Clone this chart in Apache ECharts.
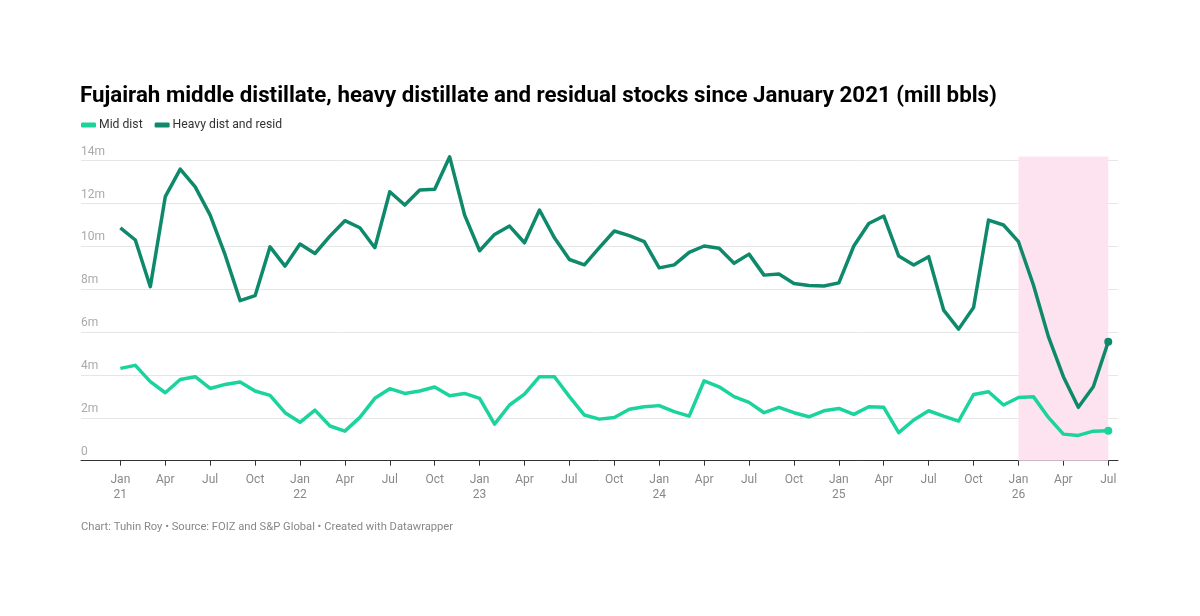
<!DOCTYPE html>
<html>
<head>
<meta charset="utf-8">
<script src="https://cdn.jsdelivr.net/npm/echarts@6/dist/echarts.min.js"></script>
<style>
  html, body { margin: 0; padding: 0; background: #fff; }
  #chart { width: 1200px; height: 616px; }
</style>
</head>
<body>
<div id="chart"></div>
<script>
// months Jan 2021 .. Jul 2026
const months = [];
const monthNames = ['Jan','Feb','Mar','Apr','May','Jun','Jul','Aug','Sep','Oct','Nov','Dec'];
for (let y = 21; y <= 26; y++) {
    for (let m = 0; m < 12; m++) {
        if (y === 26 && m > 6) break;
        months.push(monthNames[m] + ' ' + y);
    }
}

const midDist = [
    4.31, 4.45, 3.69, 3.17, 3.79, 3.92, 3.37, 3.56, 3.67, 3.25, 3.05, 2.24,
    1.79, 2.36, 1.62, 1.38, 2.02, 2.91, 3.36, 3.14, 3.25, 3.44, 3.03, 3.14,
    2.91, 1.71, 2.60, 3.11, 3.92, 3.92, 2.99, 2.13, 1.94, 2.02, 2.40, 2.52,
    2.57, 2.29, 2.08, 3.73, 3.45, 2.99, 2.72, 2.24, 2.49, 2.24, 2.05, 2.33,
    2.44, 2.16, 2.52, 2.49, 1.31, 1.90, 2.33, 2.08, 1.85, 3.09, 3.22, 2.60,
    2.95, 2.99, 2.02, 1.24, 1.18, 1.38, 1.40
];

const heavyDist = [
    10.87, 10.30, 8.12, 12.32, 13.61, 12.78, 11.46, 9.60, 7.47, 7.70, 9.98, 9.08,
    10.11, 9.67, 10.48, 11.20, 10.87, 9.94, 12.55, 11.93, 12.63, 12.67, 14.18, 11.46,
    9.80, 10.56, 10.95, 10.17, 11.70, 10.40, 9.39, 9.14, 9.94, 10.72, 10.50, 10.22,
    9.00, 9.14, 9.72, 10.02, 9.91, 9.21, 9.64, 8.66, 8.71, 8.27, 8.18, 8.15,
    8.30, 10.02, 11.07, 11.42, 9.55, 9.13, 9.52, 7.03, 6.14, 7.15, 11.23, 11.00,
    10.22, 8.20, 5.79, 3.92, 2.49, 3.45, 5.55
];

// quarterly tick positions (month index) and their labels
const tickIdx = [];
for (let i = 0; i < months.length; i += 3) tickIdx.push(i);
const tickLabel = i => {
    const [m, y] = months[i].split(' ');
    return m === 'Jan' ? m + '\n' + y : m;
};

// highlighted period
const shadeStart = months.indexOf('Jan 26');
const shadeEnd = months.indexOf('Jul 26');
const shadeTop = 14.2;

const colMid = '#1bd39c';
const colHeavy = '#0e8a6b';
const last = months.length - 1;

const toPairs = arr => arr.map((v, i) => [i, v]);
const endDot = (v, p) => (p.dataIndex === last ? 8 : 0);

var myChart = echarts.init(document.getElementById('chart'));
var option = {
    animation: false,
    textStyle: { fontFamily: 'Roboto' },
    title: {
        text: 'Fujairah middle distillate, heavy distillate and residual stocks since January 2021 (mill bbls)',
        left: 80,
        top: 85,
        padding: 0,
        textStyle: { fontSize: 22.3, fontWeight: 'bold', color: '#000', fontFamily: 'Roboto' }
    },
    legend: {
        left: 81,
        top: 119,
        padding: 0,
        itemWidth: 15,
        itemHeight: 5,
        itemGap: 12,
        icon: 'roundRect',
        textStyle: { fontSize: 12.2, color: '#333', padding: [0, 0, 0, -2] },
        data: ['Mid dist', 'Heavy dist and resid']
    },
    grid: { left: 81, right: 82, top: 160.7, bottom: 155.3 },
    xAxis: {
        type: 'value',
        min: -2.63,
        max: 66.65,
        splitLine: { show: false },
        axisLine: { lineStyle: { color: '#333', width: 1 } },
        axisTick: { customValues: tickIdx, length: 5, lineStyle: { color: '#333' } },
        axisLabel: {
            customValues: tickIdx,
            formatter: v => tickLabel(Math.round(v)),
            color: '#888',
            fontSize: 12,
            lineHeight: 15,
            margin: 12
        }
    },
    yAxis: {
        type: 'value',
        min: 0,
        max: 14,
        interval: 2,
        axisLine: { show: false },
        axisTick: { show: false },
        splitLine: { lineStyle: { color: '#e6e6e6', width: 1 } },
        axisLabel: {
            inside: true,
            margin: 0,
            verticalAlign: 'bottom',
            padding: [0, 0, 3, 0],
            color: '#aaa',
            fontSize: 12,
            formatter: v => (v === 0 ? '0' : v + 'm')
        }
    },
    series: [
        {
            name: 'Heavy dist and resid',
            type: 'line',
            data: toPairs(heavyDist),
            clip: false,
            symbol: 'circle',
            symbolSize: endDot,
            showAllSymbol: true,
            itemStyle: { color: colHeavy },
            lineStyle: { width: 3.5, color: colHeavy, join: 'round' },
            z: 3
        },
        {
            name: 'Mid dist',
            type: 'line',
            data: toPairs(midDist),
            clip: false,
            symbol: 'circle',
            symbolSize: endDot,
            showAllSymbol: true,
            itemStyle: { color: colMid },
            lineStyle: { width: 3.5, color: colMid, join: 'round' },
            z: 3
        }
    ]
};
myChart.setOption(option);

// shaded band (placed through the chart's own axes) and footer
const p0 = myChart.convertToPixel({ gridIndex: 0 }, [shadeStart, shadeTop]);
const p1 = myChart.convertToPixel({ gridIndex: 0 }, [shadeEnd, 0]);
myChart.setOption({
    graphic: [
        {
            type: 'rect',
            z: 1,
            silent: true,
            shape: { x: p0[0], y: p0[1], width: p1[0] - p0[0], height: p1[1] - p0[1] },
            style: { fill: '#fde3f0' }
        },
        {
            type: 'text',
            left: 81,
            top: 522,
            style: {
                text: 'Chart: Tuhin Roy \u2022 Source: FOIZ and S&P Global \u2022 Created with Datawrapper',
                fill: '#888',
                font: '11.2px Roboto'
            }
        }
    ]
});
</script>
</body>
</html>
